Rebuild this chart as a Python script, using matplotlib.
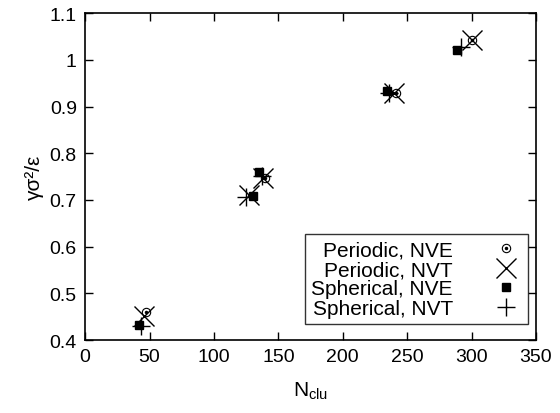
import matplotlib
matplotlib.use('Agg')
import matplotlib.pyplot as plt

plt.rcParams['font.family'] = 'Liberation Sans'
plt.rcParams['mathtext.fontset'] = 'custom'
plt.rcParams['mathtext.rm'] = 'Liberation Sans'
plt.rcParams['mathtext.it'] = 'Liberation Sans'

# data
per_nve_n = [47, 140, 241, 300]
per_nve_g = [0.461, 0.748, 0.928, 1.042]
per_nvt_n = [46, 127, 138, 240, 300]
per_nvt_g = [0.452, 0.711, 0.747, 0.928, 1.042]
sph_nve_n = [42, 130, 135, 234, 289]
sph_nve_g = [0.433, 0.709, 0.760, 0.933, 1.022]
sph_nvt_n = [43, 125, 137, 236, 292]
sph_nvt_g = [0.430, 0.706, 0.752, 0.930, 1.028]

xticks = [0, 50, 100, 150, 200, 250, 300, 350]
yticks = [0.4, 0.5, 0.6, 0.7, 0.8, 0.9, 1.0, 1.1]
yticklabels = ['0.4', '0.5', '0.6', '0.7', '0.8', '0.9', '1', '1.1']

fig = plt.figure(figsize=(5.6, 4.14), dpi=100)
ax = fig.add_axes([0.152, 0.176, 0.805, 0.790])

# circle with a dot in the middle
c1, = ax.plot(per_nve_n, per_nve_g, ls='none', marker='o', ms=6, mfc='none',
              mec='black', mew=0.8)
c2, = ax.plot(per_nve_n, per_nve_g, ls='none', marker='o', ms=1.5, color='black')
h2, = ax.plot(per_nvt_n, per_nvt_g, ls='none', marker='x', ms=14, color='black',
              mew=1.0)
h3, = ax.plot(sph_nve_n, sph_nve_g, ls='none', marker='s', ms=5.5, color='black')
h4, = ax.plot(sph_nvt_n, sph_nvt_g, ls='none', marker='+', ms=13, color='black',
              mew=1.0)

ax.set_xlim(0, 350)
ax.set_ylim(0.4, 1.1)
ax.set_xticks(xticks)
ax.set_yticks(yticks)
ax.set_yticklabels(yticklabels)
ax.tick_params(direction='in', top=True, right=True, labelsize=14, length=6,
               width=1, pad=6)
for s in ax.spines.values():
    s.set_linewidth(1.2)

ax.set_xlabel(r'N$_{\mathrm{clu}}$', fontsize=15, labelpad=10)
ax.set_ylabel('γσ²/ε', fontsize=15, labelpad=4)

leg = ax.legend([(c1, c2), h2, h3, h4],
                ['Periodic, NVE', 'Periodic, NVT', 'Spherical, NVE', 'Spherical, NVT'],
                loc='lower right', markerfirst=False, fontsize=15, frameon=True,
                fancybox=False, edgecolor='black', handlelength=1.5,
                handletextpad=1.8, labelspacing=0.02, borderpad=0.3,
                borderaxespad=0, bbox_to_anchor=(0.982, 0.049))
leg.get_frame().set_linewidth(1.0)
for t in leg.get_texts():
    t.set_ha('right')
leg._legend_box.align = 'right'

plt.savefig('out.png', dpi=100)
